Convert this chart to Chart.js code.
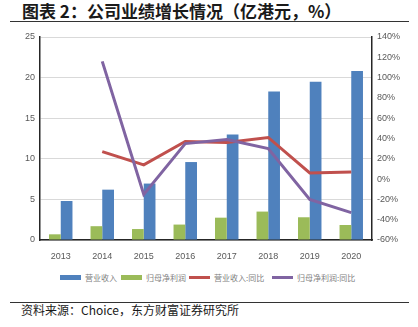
<!DOCTYPE html>
<html>
<head>
<meta charset="utf-8">
<script src="https://cdn.jsdelivr.net/npm/chart.js@4.4.1/dist/chart.umd.min.js"></script>
<style>
  html, body { margin: 0; padding: 0; background: #fff; }
  #wrap { position: relative; width: 418px; height: 327px; overflow: hidden; }
  .titulo { position: absolute; left: 22px; top: 1px; font: bold 17px "Noto Sans CJK SC", sans-serif; line-height: 19px; color: #1a1a1a; white-space: nowrap; }
  .regla { position: absolute; left: 10px; width: 399px; height: 1px; background: #333; }
  #lienzo { position: absolute; left: 0; top: 0; width: 418px; height: 262px; }
  #leyenda { position: absolute; left: 0; top: 271px; width: 418px; height: 12px; font: 8px "Noto Sans CJK SC", sans-serif; color: #7f7f7f; }
  #leyenda .item { position: absolute; top: 0; height: 12px; display: flex; align-items: center; white-space: nowrap; }
  #leyenda .caja { display: inline-block; width: 21px; margin-right: 4px; }
  .fuente { position: absolute; left: 21px; top: 303px; font: 12px "Noto Sans CJK SC", sans-serif; line-height: 14px; color: #1a1a1a; white-space: nowrap; }
</style>
</head>
<body>
<div id="wrap">
  <div class="titulo">图表 2：公司业绩增长情况（亿港元，%）</div>
  <div class="regla" style="top:21px"></div>
  <div id="lienzo"><canvas id="grafico" width="418" height="262"></canvas></div>
  <div id="leyenda"></div>
  <div class="regla" style="top:302px"></div>
  <div class="fuente">资料来源：Choice，东方财富证券研究所</div>
</div>
<script>
// datos
const anios = ['2013', '2014', '2015', '2016', '2017', '2018', '2019', '2020'];
const ingresos = [4.8, 6.2, 6.95, 9.6, 13.0, 18.3, 19.5, 20.8];      // 营业收入 (亿港元)
const beneficio = [0.7, 1.7, 1.35, 1.9, 2.75, 3.5, 2.8, 1.85];      // 归母净利润 (亿港元)
const ingresosYoY = [null, 27, 14, 37, 36, 41, 6, 7];               // 营业收入:同比 (%)
const beneficioYoY = [null, 116, -15, 35, 39, 30, -20, -33];        // 归母净利润:同比 (%)
const ticksIzq = [0, 5, 10, 15, 20, 25];
const ticksDer = [-60, -40, -20, 0, 20, 40, 60, 80, 100, 120, 140];

const colores = {
    azul: '#4F81BD',
    verde: '#9BBB59',
    rojo: '#C0504D',
    morado: '#8064A2'
};

const fuenteTicks = { family: "'Liberation Sans Narrow', 'Liberation Sans', Arial, sans-serif", size: 9 };
const colorTicks = '#595959';
const borde = { display: true, color: '#262626', width: 1.5 };

const series = [
    { label: '营业收入', type: 'bar', data: ingresos, color: colores.azul, eje: 'y', orden: 3 },
    { label: '归母净利润', type: 'bar', data: beneficio, color: colores.verde, eje: 'y', orden: 2 },
    { label: '营业收入:同比', type: 'line', data: ingresosYoY, color: colores.rojo, eje: 'y1', orden: 1 },
    { label: '归母净利润:同比', type: 'line', data: beneficioYoY, color: colores.morado, eje: 'y1', orden: 0 }
];

const datasets = series.map(s => {
    if (s.type === 'bar') {
        return {
            type: 'bar', label: s.label, data: s.data, yAxisID: s.eje, order: s.orden,
            backgroundColor: s.color, borderWidth: 0,
            barPercentage: 1, categoryPercentage: 0.565
        };
    }
    return {
        type: 'line', label: s.label, data: s.data, yAxisID: s.eje, order: s.orden,
        borderColor: s.color, backgroundColor: s.color, borderWidth: 3,
        pointRadius: 0, tension: 0, spanGaps: false
    };
});

new Chart(document.getElementById('grafico'), {
    data: { labels: anios, datasets: datasets },
    options: {
        responsive: false,
        animation: false,
        layout: { padding: { top: 37, bottom: 0, left: 0, right: 0 } },
        plugins: { legend: { display: false }, tooltip: { enabled: false } },
        scales: {
            x: {
                grid: { display: false },
                border: borde,
                ticks: { color: colorTicks, font: fuenteTicks, padding: 3, maxRotation: 0 },
                afterFit: scale => { scale.height = 22; }
            },
            y: {
                position: 'left',
                min: 0, max: 25,
                afterBuildTicks: scale => { scale.ticks = ticksIzq.map(v => ({ value: v })); },
                grid: { color: '#d9d9d9', lineWidth: 1, drawTicks: false },
                border: borde,
                ticks: { color: colorTicks, font: fuenteTicks, padding: 5 },
                afterFit: scale => { scale.width = 40; }
            },
            y1: {
                position: 'right',
                min: -60, max: 140,
                afterBuildTicks: scale => { scale.ticks = ticksDer.map(v => ({ value: v })); },
                grid: { display: false, drawTicks: false },
                border: borde,
                ticks: { color: colorTicks, font: fuenteTicks, padding: 5, callback: v => v + '%' },
                afterFit: scale => { scale.width = 46; }
            }
        }
    }
});

// leyenda en HTML, armada a partir de las series (posicion x de cada entrada)
const posLeyenda = [60, 121, 189, 272];
const leyenda = document.getElementById('leyenda');
series.forEach((s, i) => {
    const item = document.createElement('span');
    item.className = 'item';
    item.style.left = posLeyenda[i] + 'px';
    const caja = document.createElement('span');
    caja.className = 'caja';
    caja.style.height = s.type === 'bar' ? '5px' : '3px';
    caja.style.background = s.color;
    const texto = document.createElement('span');
    texto.textContent = s.label;
    item.appendChild(caja);
    item.appendChild(texto);
    leyenda.appendChild(item);
});
</script>
</body>
</html>
